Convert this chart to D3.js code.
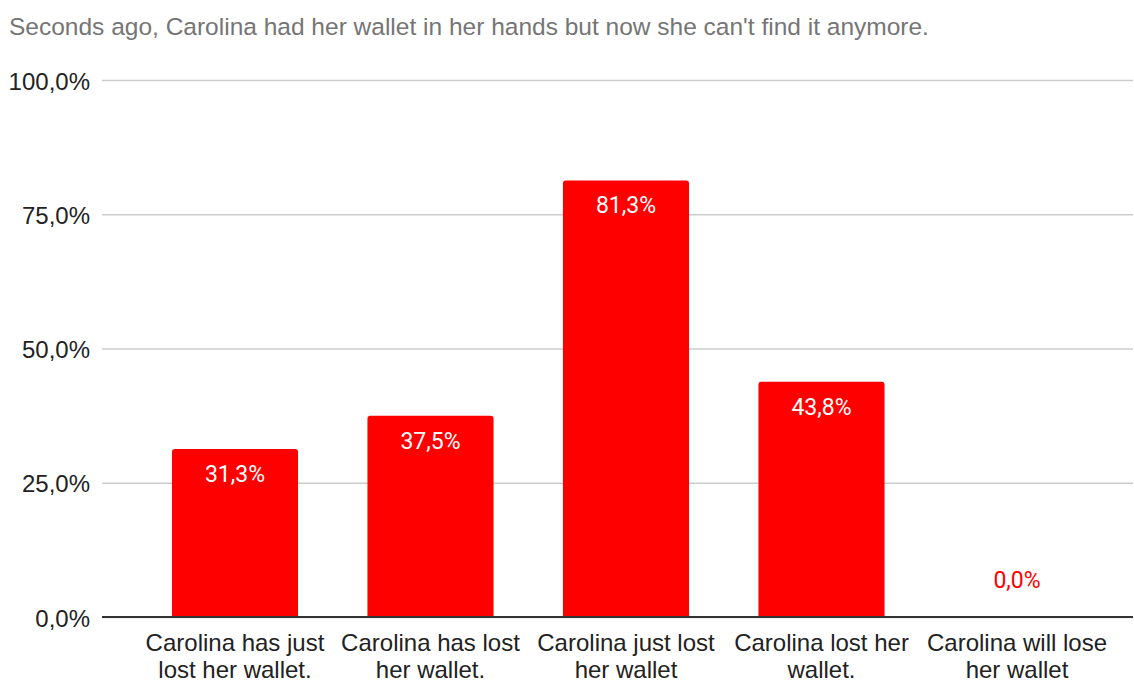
<!DOCTYPE html>
<html>
<head>
<meta charset="utf-8">
<script src="https://cdn.jsdelivr.net/npm/d3@7"></script>
<style>
  body { margin: 0; background: #fff; }
  svg { display: block; }
</style>
</head>
<body>
<svg id="chart" width="1134" height="682"></svg>
<script>
const categories = [
  ["Carolina has just", "lost her wallet."],
  ["Carolina has lost", "her wallet."],
  ["Carolina just lost", "her wallet"],
  ["Carolina lost her", "wallet."],
  ["Carolina will lose", "her wallet"]
];
const values = [31.3, 37.5, 81.3, 43.8, 0.0];
const tickValues = [0, 25, 50, 75, 100];
const title = "Seconds ago, Carolina had her wallet in her hands but now she can't find it anymore.";

const fmt = v => v.toFixed(1).replace(".", ",") + "%";
const sans = "Liberation Sans, Arial, sans-serif";

const svg = d3.select("#chart");
const m = { left: 102, right: 1133, top: 80, bottom: 617 };

const x = d3.scaleBand()
  .domain(d3.range(categories.length))
  .range([137.25, 1114.75])
  .paddingInner(0.355)
  .paddingOuter(0.1775);

const y = d3.scaleLinear().domain([0, 100]).range([m.bottom, m.top]);

svg.append("text")
  .attr("x", 9).attr("y", 35)
  .attr("font-family", sans)
  .attr("font-size", 24.5)
  .attr("fill", "#757575")
  .text(title);

// gridlines + y tick labels
const yAxis = d3.axisLeft(y).tickValues(tickValues).tickFormat(fmt)
  .tickSize(-(m.right - m.left)).tickPadding(12);
const gy = svg.append("g").attr("transform", `translate(${m.left},0)`).call(yAxis);
gy.select(".domain").remove();
gy.selectAll(".tick line").attr("stroke", "#cccccc").attr("stroke-width", 1.3);
gy.selectAll(".tick text")
  .attr("dy", 9)
  .attr("font-family", sans)
  .attr("font-size", 24)
  .attr("fill", "#222");

// bars with slightly rounded top corners
const r = 3;
const barPath = (x0, w, yTop, yBase) => {
  if (yBase - yTop < r) return `M${x0},${yBase}h${w}`;
  return `M${x0},${yBase}V${yTop + r}Q${x0},${yTop} ${x0 + r},${yTop}H${x0 + w - r}Q${x0 + w},${yTop} ${x0 + w},${yTop + r}V${yBase}Z`;
};
svg.append("g").selectAll("path").data(values).join("path")
  .attr("d", (d, i) => barPath(x(i), x.bandwidth(), y(d), y(0)))
  .attr("fill", "#ff0000");

// value labels
svg.append("g").selectAll("text").data(values).join("text")
  .attr("x", (d, i) => x(i) + x.bandwidth() / 2)
  .attr("y", d => d > 5 ? y(d) + 33 : y(d) - 29)
  .attr("text-anchor", "middle")
  .attr("font-family", "Roboto, sans-serif")
  .attr("font-size", 23)
  .attr("fill", d => d > 5 ? "#ffffff" : "#ff0000")
  .text(fmt);

// baseline
svg.append("line")
  .attr("x1", m.left).attr("x2", m.right)
  .attr("y1", y(0)).attr("y2", y(0))
  .attr("stroke", "#333").attr("stroke-width", 2);

// category labels
const gx = svg.append("g").selectAll("text").data(categories).join("text")
  .attr("x", (d, i) => x(i) + x.bandwidth() / 2)
  .attr("y", 651)
  .attr("text-anchor", "middle")
  .attr("font-family", sans)
  .attr("font-size", 24)
  .attr("fill", "#222");
gx.selectAll("tspan").data(d => d).join("tspan")
  .attr("x", function () { return this.parentNode.getAttribute("x"); })
  .attr("dy", (d, j) => j === 0 ? 0 : 27)
  .text(d => d);
</script>
</body>
</html>
